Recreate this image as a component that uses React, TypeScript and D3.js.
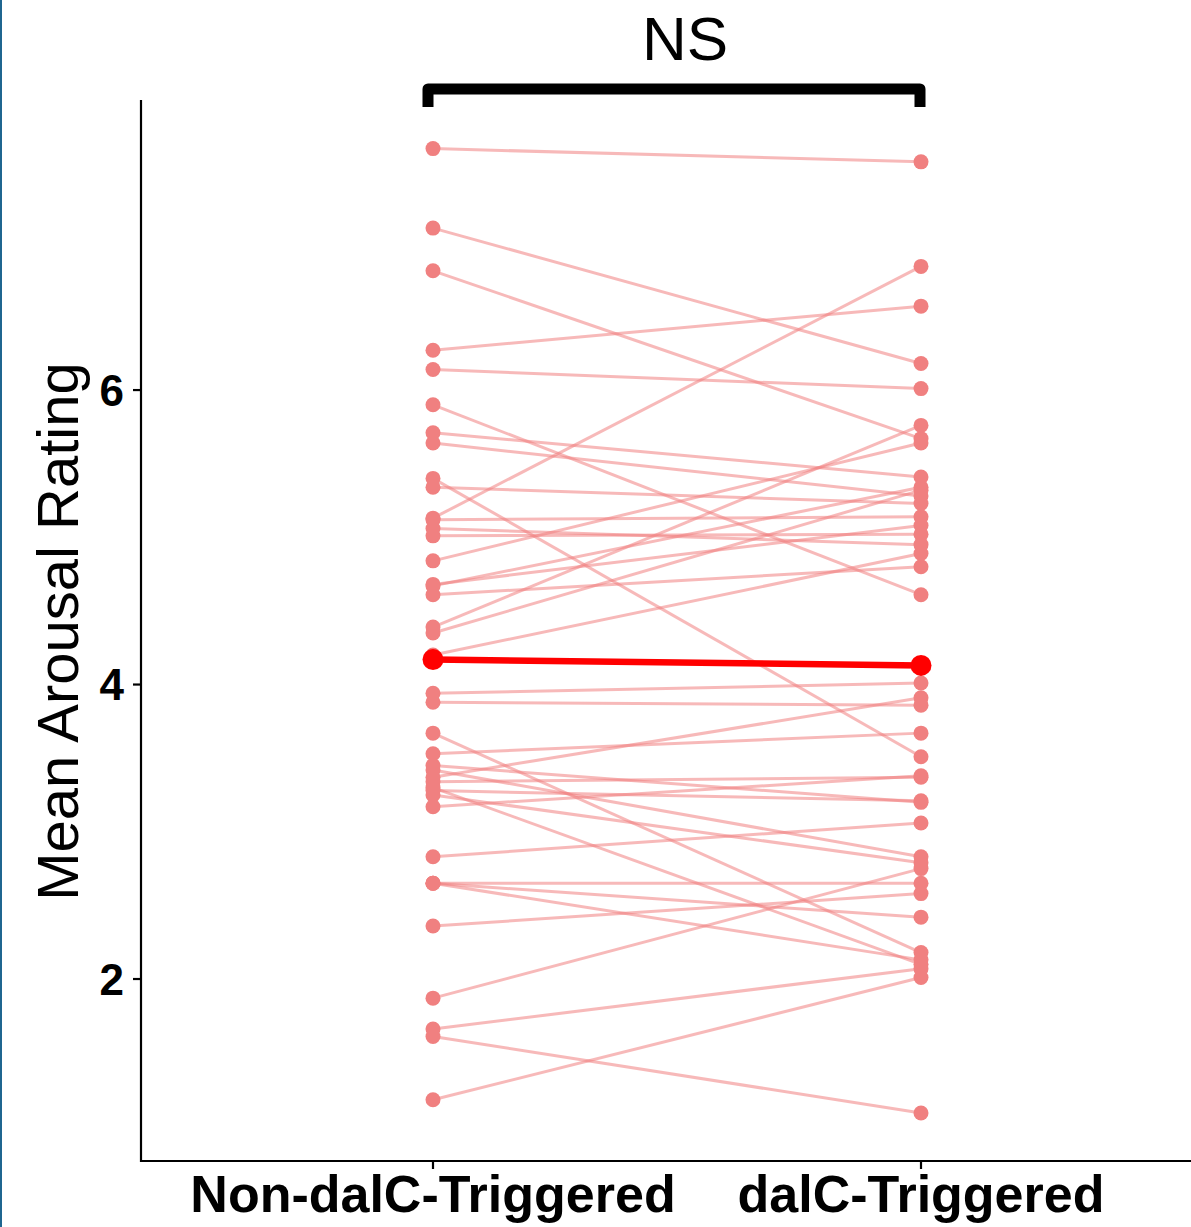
import React from "react"
import * as d3 from "d3"

// groups on the x axis
const categories = ["Non-dalC-Triggered", "dalC-Triggered"]

// each subject: rating in the non-triggered group, then the triggered group
const nonTriggered = [
  7.64, 7.1, 6.81, 6.27, 6.14, 5.9, 5.71, 5.64, 5.4, 5.34, 5.13, 5.12, 5.06, 5.01,
  4.84, 4.68, 4.67, 4.61, 4.39, 4.35, 4.2, 3.94, 3.88, 3.67, 3.53, 3.45, 3.42,
  3.37, 3.34, 3.3, 3.28, 3.25, 3.17, 2.83, 2.65, 2.65, 2.65, 2.36, 1.87, 1.66,
  1.61, 1.18,
]
const triggered = [
  7.55, 6.18, 5.67, 6.57, 6.01, 4.61, 5.41, 5.28, 3.51, 5.23, 6.84, 5.14, 4.95,
  5.02, 5.64, 5.08, 5.34, 4.8, 5.76, 5.32, 4.89, 4.01, 3.86, 2.18, 3.67, 3.2,
  2.83, 3.91, 3.37, 2.1, 3.21, 2.79, 3.38, 3.06, 2.65, 2.42, 2.13, 2.58, 2.75,
  2.07, 1.09, 2.01,
]

// group means (red line)
const means = [4.17, 4.13]

const yTicks = [2, 4, 6]
const significance = "NS"
const yLabel = "Mean Arousal Rating"

const W = 1191
const H = 1227
const font = "'Liberation Sans', Arial, Helvetica, sans-serif"

export default function App() {
  const x = d3.scalePoint<string>().domain(categories).range([433, 921])
  const y = d3.scaleLinear().domain([0.764, 7.97]).range([1161, 100])

  const axisLeft = 141
  const axisBottom = 1161

  const pairs = nonTriggered.map((v, i) => [v, triggered[i]])
  const line = d3
    .line<number>()
    .x((_, i) => x(categories[i]) as number)
    .y((d) => y(d))

  const x0 = x(categories[0]) as number
  const x1 = x(categories[1]) as number
  const bracketY = 89

  return (
    <svg
      width={W}
      height={H}
      style={{ position: "absolute", left: 0, top: 0, background: "#fff" }}
      fontFamily={font}
    >
      <rect x={0} y={0} width={2} height={H} fill="#1f6690" />

      {/* subject lines */}
      {pairs.map((p, i) => (
        <path key={"l" + i} d={line(p) || ""} fill="none" stroke="#f08080" strokeOpacity={0.55} strokeWidth={3} />
      ))}
      {pairs.map((p, i) => (
        <g key={"p" + i}>
          <circle cx={x0} cy={y(p[0])} r={7.5} fill="#f08080" />
          <circle cx={x1} cy={y(p[1])} r={7.5} fill="#f08080" />
        </g>
      ))}

      {/* mean */}
      <path d={line(means) || ""} fill="none" stroke="#ff0000" strokeWidth={6.5} />
      {means.map((m, i) => (
        <circle key={"m" + i} cx={x(categories[i])} cy={y(m)} r={10.5} fill="#ff0000" />
      ))}

      {/* axes */}
      <line x1={axisLeft} x2={axisLeft} y1={100} y2={axisBottom + 1} stroke="#000" strokeWidth={2.2} />
      <line x1={axisLeft - 1} x2={W} y1={axisBottom} y2={axisBottom} stroke="#000" strokeWidth={2.2} />
      {yTicks.map((t) => (
        <g key={t}>
          <line x1={axisLeft - 8} x2={axisLeft} y1={y(t)} y2={y(t)} stroke="#000" strokeWidth={2.2} />
          <text x={124} y={y(t)} dy="0.36em" textAnchor="end" fontSize={44} fontWeight="bold">
            {t}
          </text>
        </g>
      ))}
      {categories.map((c) => (
        <g key={c}>
          <line x1={x(c)} x2={x(c)} y1={axisBottom} y2={axisBottom + 8} stroke="#000" strokeWidth={2.2} />
          <text x={x(c)} y={1212} textAnchor="middle" fontSize={52} fontWeight="bold">
            {c}
          </text>
        </g>
      ))}
      <text transform={`translate(78,${y(4.36)}) rotate(-90)`} textAnchor="middle" fontSize={58}>
        {yLabel}
      </text>

      {/* significance bracket */}
      <path
        d={`M${x0 - 5},${bracketY + 18} V${bracketY} H${x1 - 1} V${bracketY + 18}`}
        fill="none"
        stroke="#000"
        strokeWidth={11}
        strokeLinejoin="round"
      />
      <text x={685} y={60} textAnchor="middle" fontSize={62}>
        {significance}
      </text>
    </svg>
  )
}
